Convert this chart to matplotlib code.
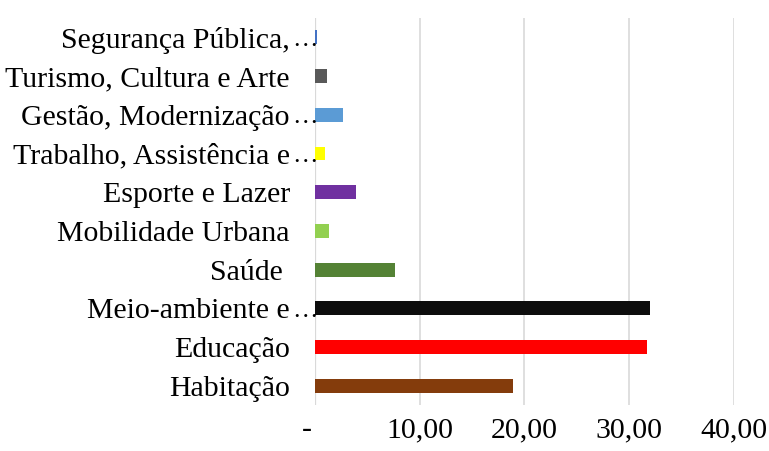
import matplotlib
matplotlib.use("Agg")
from matplotlib import pyplot as plt
from matplotlib import transforms

# labels as Excel cuts them; True marks the ones that get a trailing ellipsis
categories = [
    "Habitação",
    "Educação",
    "Meio-ambiente e",
    "Saúde ",
    "Mobilidade Urbana",
    "Esporte e Lazer",
    "Trabalho, Assistência e",
    "Gestão, Modernização",
    "Turismo, Cultura e Arte",
    "Segurança Pública,",
]
truncated = [False, False, True, False, False, False, True, True, False, True]
values = [18.9, 31.7, 32.0, 7.65, 1.35, 3.92, 0.97, 2.68, 1.15, 0.19]
colors = [
    "#843c0c", "#ff0000", "#0d0d0d", "#548235", "#92d050",
    "#7030a0", "#ffff00", "#5b9bd5", "#595959", "#4472c4",
]
xticks = [0, 10, 20, 30, 40]
xticklabels = ["-  ", "10,00", "20,00", "30,00", "40,00"]

plt.rcParams["font.family"] = ["Liberation Serif", "DejaVu Serif"]
FS = 21.5

fig = plt.figure(figsize=(7.69, 4.51), dpi=100)
ax = fig.add_axes([0.4096, 0.102, 0.5449, 0.858])

ax.barh(range(len(categories)), values, height=0.36, color=colors, zorder=3)

ax.set_xlim(0, 40)
ax.set_ylim(-0.5, len(categories) - 0.5)
ax.set_xticks(xticks)
ax.set_xticklabels(xticklabels, fontsize=FS)
ax.set_yticks(range(len(categories)))
ax.set_yticklabels(categories, fontsize=FS)
ax.tick_params(axis="x", length=0, pad=9)
ax.tick_params(axis="y", length=0, pad=18)

# ellipsis spills past the label box, up to the axis line
trans = transforms.offset_copy(ax.get_yaxis_transform(), fig=fig, x=-23, y=0, units="dots")
for i, cut in enumerate(truncated):
    if cut:
        ax.text(0, i, "…", transform=trans, ha="left", va="center_baseline",
                fontsize=FS * 0.85, clip_on=False)

ax.grid(axis="x", color="#d9d9d9", linewidth=1.2, zorder=0)
for s in ax.spines.values():
    s.set_visible(False)
ax.axvline(0, color="#d9d9d9", linewidth=1.6, zorder=1)

fig.savefig("out.png", dpi=100)
